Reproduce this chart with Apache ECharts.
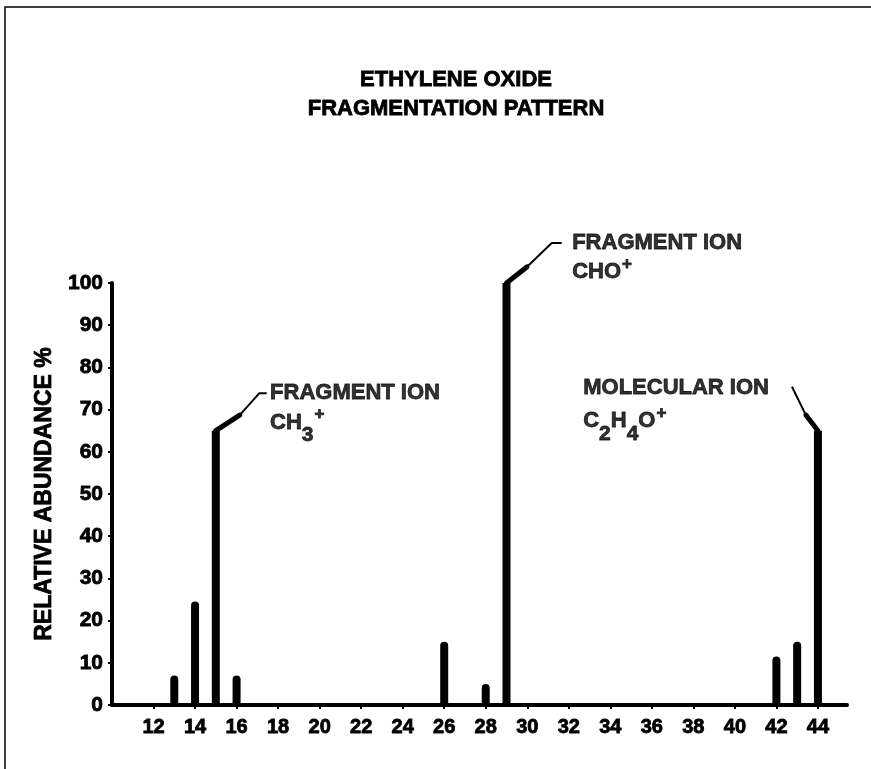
<!DOCTYPE html>
<html><head><meta charset="utf-8">
<script src="https://cdn.jsdelivr.net/npm/echarts@6/dist/echarts.min.js"></script>
<style>html,body{margin:0;padding:0;background:#fff}#c{width:871px;height:769px}</style>
</head><body><div id="c"></div>
<script>
// ---- data ----
const titleLines = ['ETHYLENE OXIDE', 'FRAGMENTATION PATTERN'];
const yAxisTitle = 'RELATIVE ABUNDANCE %';
const massNumbers = [13, 14, 15, 16, 26, 28, 29, 42, 43, 44];
const abundance   = [7, 24.5, 65, 7, 15, 5, 100, 11.5, 15, 65];
// annotation leader lines (data coordinates: m/z, abundance)
const leaderThick = [
  [[15, 65], [16.15, 68.7]],
  [[29, 100], [29.98, 103.8]],
  [[44, 65], [43.42, 68.7]]
];
const leaderThin = [
  [[16.15, 68.7], [17.1, 73.9], [17.45, 73.9]],
  [[29.98, 103.8], [31.18, 109.5], [31.66, 109.5]],
  [[43.42, 68.7], [42.75, 75.4]]
];
// annotation texts (data coordinates of text start)
const annotFirstLine = [
  [17.59, 74.05, 'FRAGMENT ION'],
  [32.14, 109.5, 'FRAGMENT ION'],
  [32.67, 75.1, 'MOLECULAR ION']
];
const annotSecondLine = [
  [17.59, 66.9, '{t|CH}{s|3}{p|+}'],
  [32.14, 102.6, '{t|CHO}{p|+}'],
  [32.67, 67.3, '{t|C}{s|2}{t|H}{s|4}{t|O}{p|+}']
];

const FONT = '"Liberation Sans", Arial, sans-serif';
const HEAVY = { textBorderColor: '#000', textBorderWidth: 0.8 };
const chart = echarts.init(document.getElementById('c'), null, {renderer: 'canvas'});

const barData = massNumbers.map((m, i) => ({
  value: [m, abundance[i]],
  itemStyle: { borderRadius: abundance[i] < 50 ? [4, 4, 0, 0] : 0 }
}));

const series = [{
  type: 'bar',
  data: barData,
  barWidth: 8,
  itemStyle: { color: '#000' },
  z: 3
}];
leaderThick.forEach(seg => series.push({
  type: 'line', data: seg, symbol: 'none', clip: false, silent: true,
  lineStyle: { color: '#000', width: 5, cap: 'round' }, z: 4
}));
leaderThin.forEach(seg => series.push({
  type: 'line', data: seg, symbol: 'none', clip: false, silent: true,
  lineStyle: { color: '#000', width: 2 }, z: 4
}));
const richStyles = {
  t: Object.assign({ fontFamily: FONT, fontWeight: 'bold', fontSize: 22, color: '#000' }, HEAVY),
  s: Object.assign({ fontFamily: FONT, fontWeight: 'bold', fontSize: 21, color: '#000', padding: [26, 0, 0, 0] }, HEAVY),
  p: Object.assign({ fontFamily: FONT, fontWeight: 'bold', fontSize: 17, color: '#000', padding: [0, 0, 16, 1] }, HEAVY)
};
series.push({
  type: 'scatter', clip: false, silent: true, symbolSize: 1,
  itemStyle: { color: 'rgba(0,0,0,0)' },
  data: annotFirstLine.map(a => ({ value: [a[0], a[1]], name: a[2] })),
  label: Object.assign({ show: true, position: 'right', distance: 0, formatter: p => p.name,
    fontFamily: FONT, fontWeight: 'bold', fontSize: 22, color: '#000' }, HEAVY)
});
series.push({
  type: 'scatter', clip: false, silent: true, symbolSize: 1,
  itemStyle: { color: 'rgba(0,0,0,0)' },
  data: annotSecondLine.map(a => ({ value: [a[0], a[1]], name: a[2] })),
  label: { show: true, position: 'right', distance: 0, formatter: p => p.name,
    rich: richStyles }
});

chart.setOption({
  backgroundColor: '#fff',
  animation: false,
  title: {
    text: titleLines.join('\n'),
    left: 451, top: 60, textAlign: 'center',
    textStyle: Object.assign({ fontFamily: FONT, fontWeight: 'bold', fontSize: 22, lineHeight: 29, color: '#000' }, HEAVY)
  },
  graphic: [{
    type: 'rect', shape: { x: 5, y: 7, width: 900, height: 800 },
    style: { fill: 'none', stroke: '#000', lineWidth: 1.5 }, silent: true, z: -1
  }],
  grid: { left: 112, right: 24, top: 283, bottom: 64 },
  xAxis: {
    type: 'value', min: 10, max: 45.4, interval: 2,
    splitLine: { show: false },
    axisLine: { show: true, lineStyle: { color: '#000', width: 4 } },
    axisTick: { show: true, length: 4, lineStyle: { color: '#000', width: 2 } },
    axisLabel: Object.assign({
      margin: 12, color: '#000', fontFamily: FONT, fontWeight: 'bold', fontSize: 20,
      showMinLabel: false, showMaxLabel: false,
      formatter: v => (v >= 12 && v <= 44 ? String(v) : '')
    }, HEAVY)
  },
  yAxis: {
    type: 'value', min: 0, max: 100, interval: 10,
    name: yAxisTitle, nameLocation: 'middle', nameGap: 52,
    nameTextStyle: Object.assign({ fontFamily: FONT, fontWeight: 'bold', fontSize: 23, color: '#000' }, HEAVY),
    splitLine: { show: false },
    axisLine: { show: true, lineStyle: { color: '#000', width: 4 } },
    axisTick: { show: true, length: 4, lineStyle: { color: '#000', width: 2 } },
    axisLabel: Object.assign({ margin: 9, color: '#000', fontFamily: FONT, fontWeight: 'bold', fontSize: 21 }, HEAVY)
  },
  series: series
});
</script>
</body></html>
